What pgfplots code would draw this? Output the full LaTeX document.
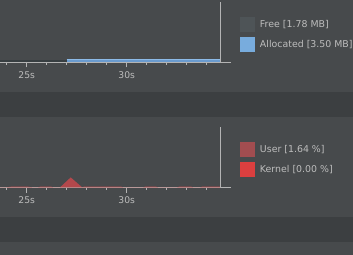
\documentclass[border=0pt]{standalone}
\usepackage{pgfplots}
\pgfplotsset{compat=1.18}
\usepackage{fontspec}
\setmainfont{DejaVu Sans}
\definecolor{bglight}{HTML}{474A4C}
\definecolor{bgdark}{HTML}{3C3F41}
\definecolor{axisgray}{HTML}{B4B4B4}
\definecolor{txtgray}{HTML}{BDBDBD}
\definecolor{freec}{HTML}{4E5457}
\definecolor{freefill}{HTML}{373E41}
\definecolor{allocc}{HTML}{8DBBE8}
\definecolor{allocsw}{HTML}{78ACDD}
\definecolor{allocfill}{HTML}{6A9BCF}
\definecolor{userc}{HTML}{A24D50}
\definecolor{userfill}{HTML}{B3484C}
\definecolor{kernelc}{HTML}{DB3F3F}
\pgfplotsset{
  monitor/.style={
    width=230.7bp, height=60bp, scale only axis,
    anchor=south west,
    xmin=23.665, xmax=35.2, ymin=0,
    axis x line=bottom, axis y line=none,
    axis line style={-, draw=axisgray, line width=0.8bp},
    xtick={25,30}, xticklabels={25s,30s},
    minor xtick={24,26,27,28,29,31,32,33,34},
    xtick align=outside,
    major tick length=5.3bp, minor tick length=2.7bp,
    every tick/.style={draw=axisgray, line width=0.8bp},
    minor tick style={draw=axisgray, line width=0.8bp},
    major tick style={draw=axisgray, line width=0.8bp},
    ytick=\empty,
    xticklabel style={text=txtgray, font=\fontsize{9.2bp}{10bp}\selectfont, inner sep=0pt, anchor=north, yshift=-3.8bp},
    clip=false,
    legend image code/.code={\fill[##1, draw=none] (0bp,-7.5bp) rectangle (15bp,7.5bp);},
    legend cell align=left,
    legend style={draw=none, fill=none, inner sep=0pt, outer sep=0pt,
      row sep=5bp, column sep=5bp, anchor=north west,
      nodes={inner sep=0pt, outer sep=0pt, text=txtgray, font=\fontsize{9.4bp}{10bp}\selectfont}},
  }
}
\begin{document}
\begin{tikzpicture}
\fill[bglight] (0,0) rectangle (353bp,255bp);
\fill[bgdark] (0,138bp) rectangle (353bp,163bp);
\fill[bgdark] (0,13bp) rectangle (353bp,38bp);
% Memory monitor
\begin{axis}[monitor, at={(0bp,193bp)}, ymax=70,
  legend style={at={(rel axis cs:1.0403,0.75)}}]
\addplot[fill=freefill, draw=none, forget plot] coordinates {(23.665,2.5) (27,2.5)} \closedcycle;
\addplot[fill=allocfill, draw=none, forget plot] coordinates {(27,3.5) (34.67,3.5)} \closedcycle;
\addplot[allocc, line width=0.8bp, forget plot] coordinates {(27,3.2) (34.67,3.2)};
\addlegendimage{fill=freec, draw=none}
\addlegendentry{Free [1.78 MB]}
\addlegendimage{fill=allocsw, draw=none}
\addlegendentry{Allocated [3.50 MB]}
\draw[axisgray, line width=0.8bp] (axis cs:34.67,0) -- (axis cs:34.67,70);
\end{axis}
% CPU monitor
\begin{axis}[monitor, at={(0bp,67.7bp)}, ymax=100,
  legend style={at={(rel axis cs:1.0403,0.755)}}]
\addplot[fill=userfill, draw=none, forget plot] coordinates {
(23.665,0) (24.0,0) (24.3,1.3) (25.0,1.3) (25.27,0) (25.57,0) (25.7,1.2) (26.2,1.2) (26.32,0)
(26.67,0) (27.2,16.5) (27.77,0) (27.9,1.3) (29.7,1.3) (29.82,0) (30.82,0) (30.95,1.2) (31.45,1.2)
(31.56,0) (32.52,0) (32.65,1.2) (33.2,1.2) (33.32,0) (33.67,0) (33.8,1.2) (34.67,1.2)} \closedcycle;
\addplot[fill=kernelc, draw=none, forget plot] coordinates {(23.665,0) (34.67,0)} \closedcycle;
\addlegendimage{fill=userc, draw=none}
\addlegendentry{User [1.64 \%]}
\addlegendimage{fill=kernelc, draw=none}
\addlegendentry{Kernel [0.00 \%]}
\draw[axisgray, line width=0.8bp] (axis cs:34.67,0) -- (axis cs:34.67,100);
\end{axis}
\pgfresetboundingbox
\path (0,0) rectangle (353bp,255bp);
\end{tikzpicture}
\end{document}
